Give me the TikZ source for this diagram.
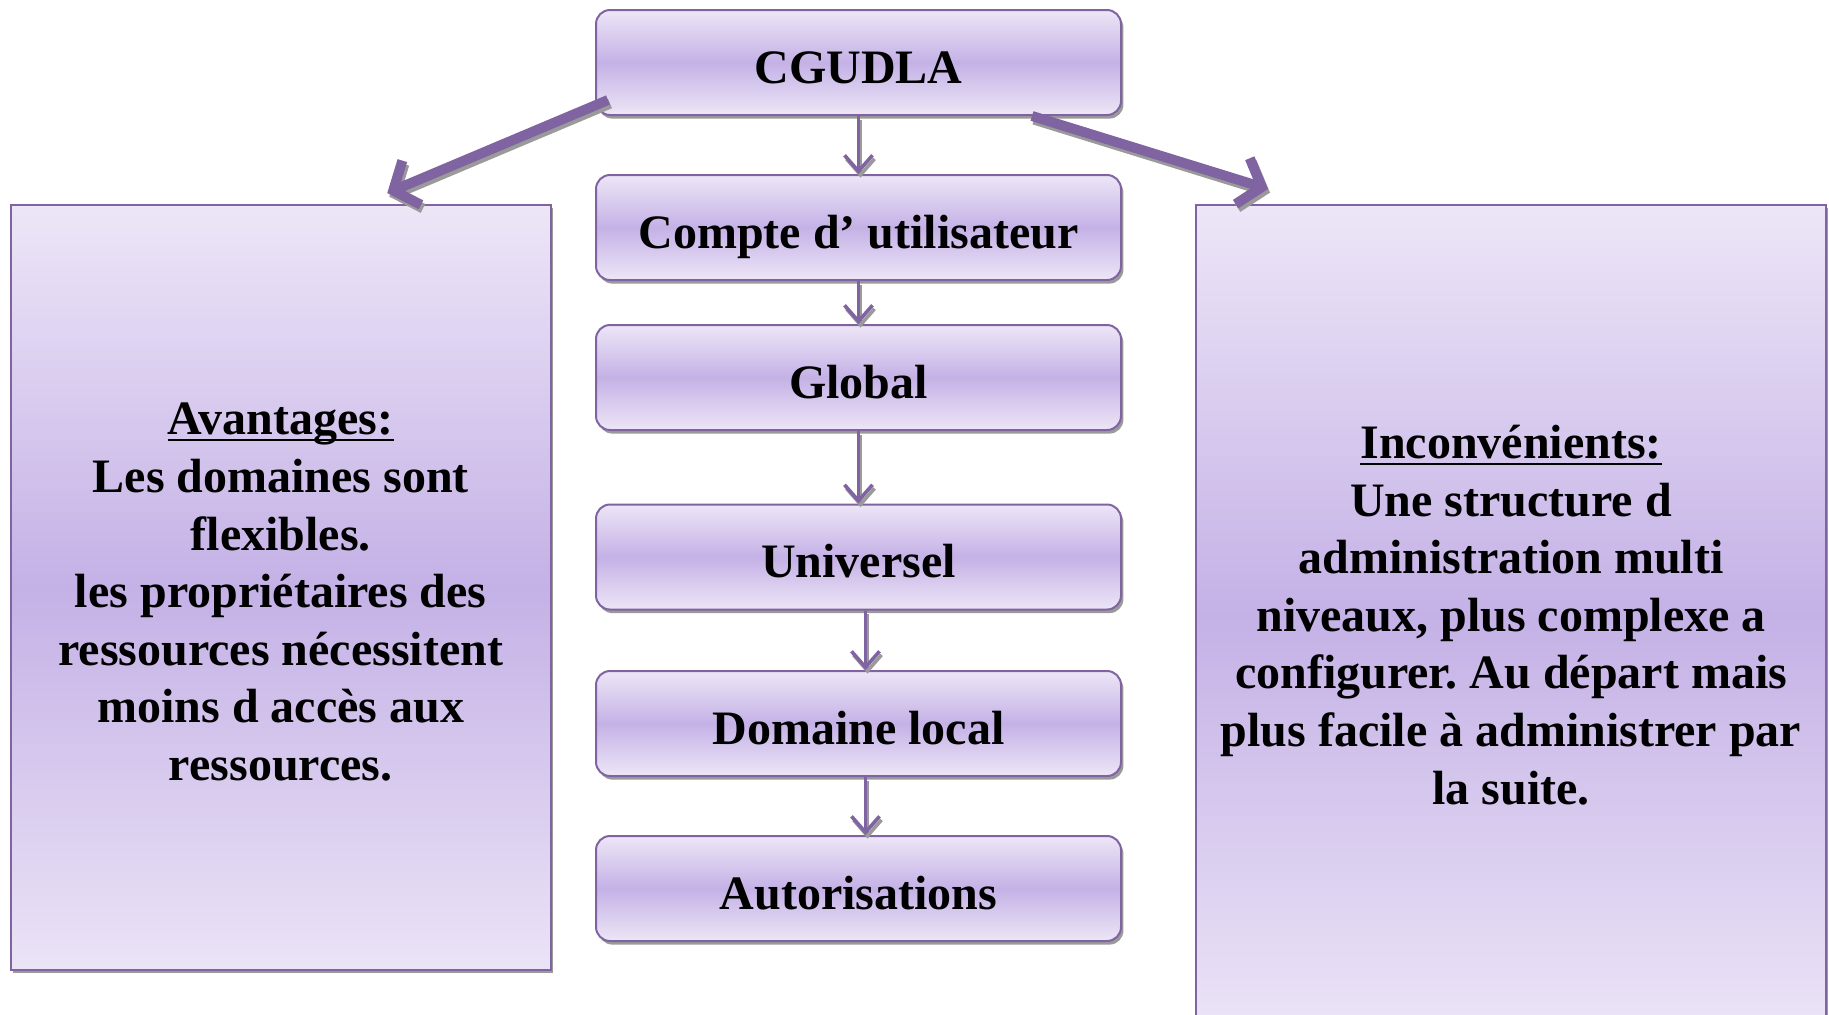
\documentclass[tikz,border=0pt]{standalone}
\usepackage{fontspec}
\setmainfont{Liberation Serif}
\frenchspacing
\usetikzlibrary{arrows.meta,positioning,shadows,calc}
\definecolor{lila}{HTML}{8064A2}
\definecolor{lilalight}{HTML}{EDE6F7}
\definecolor{liladark}{HTML}{C4B1E6}
\definecolor{ombre}{HTML}{9A9A9A}
\newcommand\souligne[1]{\setbox0\hbox{#1}\rlap{\rule[-3.2pt]{\wd0}{1pt}}\box0}
\tikzset{
    level/.style =  {rectangle,
                    rounded corners=7pt,
                    draw=lila,
                    line width=1pt,
                    top color=lilalight,
                    bottom color=lilalight,
                    middle color=liladark,
                    text=black,
                    text height=20.5pt,
                    text depth=0pt,
                    minimum width=262.5pt,
                    minimum height=52.5pt,
                    font=\fontsize{24}{28.8}\selectfont\bfseries,
                    drop shadow={shadow xshift=1.2pt,shadow yshift=-1.8pt,fill=ombre,opacity=1}},
    panel/.style =  {rectangle,
                    draw=lila,
                    line width=1pt,
                    top color=lilalight,
                    bottom color=lilalight!95!liladark,
                    middle color=liladark,
                    text=black,
                    align=center,
                    font=\fontsize{24}{28.8}\selectfont\bfseries,
                    drop shadow={shadow xshift=1pt,shadow yshift=-1.5pt,fill=ombre,opacity=1}},
    link/.style =   {draw=lila,
                    line width=1.8pt,
                    -{Straight Barb[length=8pt,width=14pt]}},
    fork/.style =   {draw=lila,
                    line width=5pt,
                    -{Straight Barb[length=10pt,width=24pt]}},
    ombred/.style = {draw=ombre,
                    transform canvas={shift={(1pt,-1.8pt)}}},
    x=0.5pt, y=-0.5pt}
\begin{document}
\begin{tikzpicture}
    \clip (0,0) rectangle (1829,1014);
    \useasboundingbox (0,0) rectangle (1829,1014);
    % central column
    \node[level]                                    (cg)  at (858.5,62.5) {CGUDLA};
    \node[level, node distance=82.5pt, below of=cg]   (cpt) {Compte d’ utilisateur};
    \node[level, node distance=75pt, below of=cpt]    (gl)  {Global};
    \node[level, node distance=89.75pt, below of=gl]  (un)  {Universel};
    \node[level, node distance=83.25pt, below of=un]  (dl)  {Domaine local};
    \node[level, node distance=82.5pt, below of=dl]   (au)  {Autorisations};
    % side panels
    \node[panel, minimum width=270pt, minimum height=382.5pt] (av) at (280.75,587.5)
        {\rule{0pt}{20.5pt}\souligne{Avantages:}\\ Les domaines sont\\ flexibles.\\ les propriétaires des\\
         ressources nécessitent\\ moins d accès aux\\ ressources.};
    \node[panel, minimum width=315pt, minimum height=410pt] (in) at (1511,615)
        {\souligne{Inconvénients:}\\ Une structure d\\ administration multi\\
         niveaux, plus complexe a\\ configurer. Au départ mais\\
         plus facile à administrer par\\ la suite.};
    \coordinate (ls) at ($(cg.south west)+(13,-16)$);
    \coordinate (lt) at ($(av.north west)+(377.5,-11)$);
    \coordinate (rs) at ($(cg.south east)+(-90,0)$);
    \coordinate (rt) at ($(in.north west)+(73,-15)$);
    \draw [fork, ombred] (ls) -- (lt);
    \draw [fork, ombred] (rs) -- (rt);
    \draw [fork] (ls) -- (lt);
    \draw [fork] (rs) -- (rt);
    \foreach \a/\b/\s in {cg/cpt/0,cpt/gl/0,gl/un/0,un/dl/3.5,dl/au/3.5}{
        \draw [link, ombred] ([xshift=\s pt]\a.south) -- ([xshift=\s pt]\b.north);
        \draw [link] ([xshift=\s pt]\a.south) -- ([xshift=\s pt]\b.north);
    }
\end{tikzpicture}
\end{document}
